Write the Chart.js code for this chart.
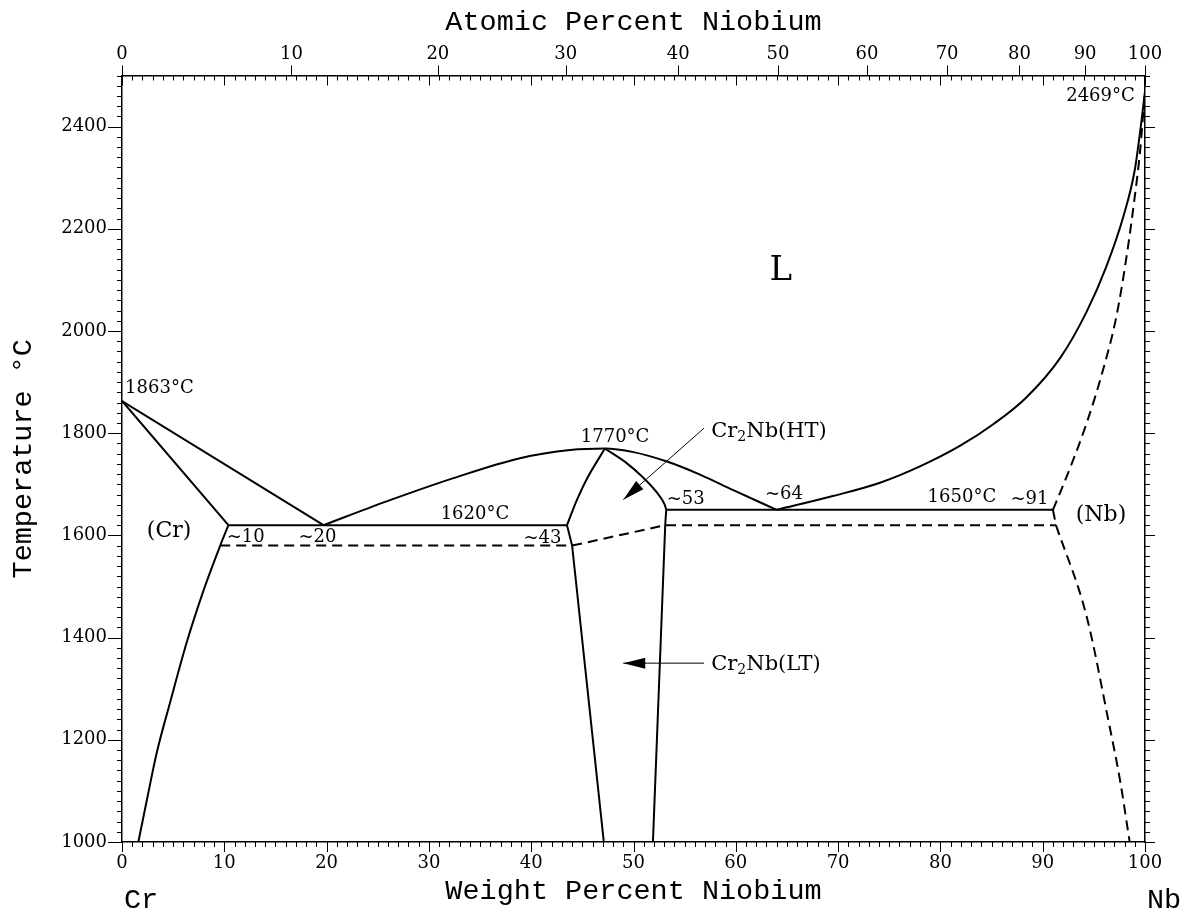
<!DOCTYPE html>
<html>
<head>
<meta charset="utf-8">
<title>Cr-Nb phase diagram</title>
<script src="https://cdn.jsdelivr.net/npm/chart.js@4.4.1/dist/chart.umd.min.js"></script>
<style>
  html, body { margin: 0; padding: 0; background: #fff; }
  canvas { display: block; }
</style>
</head>
<body>
<canvas id="phaseChart" width="1185" height="913"></canvas>
<script>
// tick labels
const wtTicks = [0, 10, 20, 30, 40, 50, 60, 70, 80, 90, 100];
const atTicks = [0, 10, 20, 30, 40, 50, 60, 70, 80, 90, 100];
const tempTicks = [1000, 1200, 1400, 1600, 1800, 2000, 2200, 2400];

// atomic masses, used to place the atomic percent ticks on the weight scale
const M_CR = 51.996;
const M_NB = 92.906;
function atToWt(a) {
    return 100 * a * M_NB / (a * M_NB + (100 - a) * M_CR);
}

// phase boundaries, [wt% Nb, temperature C]
const crLiquidus = [[0, 1863], [19.7, 1620]];
const crSolidus = [[0, 1863], [10.4, 1620]];
const crSolvus = [[10.4, 1620], [9.6, 1580], [8.0, 1494], [6.3, 1389], [4.7, 1273], [3.4, 1175], [2.5, 1089], [1.6, 1000]];
const lavesLiquidus = [[19.7, 1620], [25.8, 1666], [32.4, 1712], [38.9, 1751], [43.8, 1767], [47.2, 1770], [50.0, 1763], [53.2, 1745], [56.5, 1719], [59.7, 1689], [64.0, 1650]];
const lavesLeftHigh = [[47.2, 1770], [45.4, 1709], [44.4, 1666], [43.5, 1620]];
const lavesLeftLow = [[43.5, 1620], [44.0, 1580], [47.1, 1000]];
const lavesRightHigh = [[47.2, 1770], [49.3, 1742], [50.9, 1714], [52.2, 1686], [53.05, 1660], [53.2, 1650]];
const lavesRightLow = [[53.2, 1650], [53.1, 1620], [51.9, 1000]];
const eutectic1620 = [[10.4, 1620], [43.5, 1620]];
const eutectic1650 = [[53.2, 1650], [91.0, 1650]];
const nbLiquidus = [[64.0, 1650], [69.5, 1677], [74.1, 1703], [78.0, 1735], [81.9, 1775], [85.2, 1818], [88.4, 1870], [91.7, 1947], [94.3, 2038], [96.2, 2125], [97.9, 2225], [99.0, 2315], [99.65, 2410], [100, 2469]];
const nbSolidus = [[91.0, 1650], [92.6, 1728], [94.3, 1820], [95.9, 1924], [97.2, 2028], [98.2, 2146], [99.0, 2263], [99.5, 2348], [100, 2469]];
const nbStep = [[91.0, 1650], [91.3, 1620]];
const nbSolvus = [[91.3, 1620], [94.3, 1441], [96.4, 1240], [97.6, 1116], [98.5, 1000]];
const lavesTransition = [[9.6, 1580], [44.0, 1580], [53.1, 1620], [91.3, 1620]];
const arrowHT = [[56.9, 1810], [49.0, 1670]];
const arrowLT = [[56.9, 1350], [49.0, 1350]];

// text placed in the diagram, [text, wt%, temperature, align]
const notes = [
    ['1863°C', 0.3, 1887, 'left'],
    ['~10', 12.1, 1597, 'center'],
    ['~20', 19.1, 1597, 'center'],
    ['1620°C', 34.5, 1642, 'center'],
    ['~43', 41.1, 1595, 'center'],
    ['1770°C', 48.2, 1791, 'center'],
    ['~53', 55.1, 1670, 'center'],
    ['~64', 64.7, 1680, 'center'],
    ['1650°C', 82.1, 1674, 'center'],
    ['~91', 88.7, 1670, 'center'],
    ['2469°C', 99.0, 2460, 'right']
];
const phaseNames = [
    ['(Cr)', 4.6, 1609],
    ['(Nb)', 95.7, 1640]
];
const compoundNames = [
    ['HT', 57.6, 1803],
    ['LT', 57.6, 1347]
];

const SERIF = '"DejaVu Serif", serif';
const MONO = '"Liberation Mono", monospace';

function curve(points, extra) {
    return Object.assign({
        data: points.map(p => ({ x: p[0], y: p[1] })),
        showLine: true,
        pointRadius: 0,
        borderColor: '#000',
        borderWidth: 2,
        tension: 0,
        fill: false
    }, extra || {});
}

const smooth = { cubicInterpolationMode: 'monotone' };
const dashed = { borderDash: [10, 6] };
const smoothDashed = Object.assign({}, smooth, dashed);

const datasets = [
    curve(crLiquidus),
    curve(crSolidus),
    curve(crSolvus, smooth),
    curve(lavesLiquidus, smooth),
    curve(lavesLeftHigh, smooth),
    curve(lavesLeftLow),
    curve(lavesRightHigh, smooth),
    curve(lavesRightLow),
    curve(eutectic1620),
    curve(eutectic1650),
    curve(nbLiquidus, smooth),
    curve(nbSolidus, smoothDashed),
    curve(nbStep, dashed),
    curve(nbSolvus, smoothDashed),
    curve(lavesTransition, dashed),
    curve(arrowHT, { borderWidth: 1 }),
    curve(arrowLT, { borderWidth: 1 })
];

// minor/major tick marks on all four sides
const tickMarks = {
    id: 'tickMarks',
    afterDraw(chart) {
        const { ctx, chartArea: a, scales } = chart;
        const x = scales.x, y = scales.y;
        ctx.save();
        ctx.strokeStyle = '#000';
        ctx.lineWidth = 1;
        ctx.beginPath();
        for (let w = 0; w <= 100; w++) {
            const px = Math.round(x.getPixelForValue(w)) + 0.5;
            const len = w % 10 === 0 ? 10 : 5;
            ctx.moveTo(px, a.bottom); ctx.lineTo(px, a.bottom + len);
            ctx.moveTo(px, a.top); ctx.lineTo(px, a.top + len);
        }
        atTicks.forEach(at => {
            const px = Math.round(x.getPixelForValue(atToWt(at))) + 0.5;
            ctx.moveTo(px, a.top); ctx.lineTo(px, a.top - 10);
        });
        for (let t = 1000; t <= 2500; t += 20) {
            const py = Math.round(y.getPixelForValue(t)) + 0.5;
            const major = t % 200 === 0;
            ctx.moveTo(a.left, py); ctx.lineTo(a.left - (major ? 14 : 5), py);
            ctx.moveTo(a.right, py); ctx.lineTo(a.right + (major ? 10 : 5), py);
        }
        ctx.stroke();
        ctx.restore();
    }
};

function arrowHead(ctx, x, y, from, to) {
    const x0 = x.getPixelForValue(from[0]), y0 = y.getPixelForValue(from[1]);
    const x1 = x.getPixelForValue(to[0]), y1 = y.getPixelForValue(to[1]);
    const ang = Math.atan2(y1 - y0, x1 - x0);
    const len = 22, half = 5.5;
    ctx.save();
    ctx.translate(x1, y1);
    ctx.rotate(ang);
    ctx.beginPath();
    ctx.moveTo(0, 0);
    ctx.lineTo(-len, -half);
    ctx.lineTo(-len, half);
    ctx.closePath();
    ctx.fill();
    ctx.restore();
}

const diagramText = {
    id: 'diagramText',
    afterDatasetsDraw(chart) {
        const { ctx, chartArea: a, scales } = chart;
        const x = scales.x, y = scales.y;
        ctx.save();
        ctx.fillStyle = '#000';
        ctx.textBaseline = 'middle';

        ctx.font = '18px ' + SERIF;
        notes.forEach(n => {
            ctx.textAlign = n[3];
            ctx.fillText(n[0], x.getPixelForValue(n[1]), y.getPixelForValue(n[2]));
        });

        ctx.font = '22px ' + SERIF;
        ctx.textAlign = 'center';
        phaseNames.forEach(n => {
            ctx.fillText(n[0], x.getPixelForValue(n[1]), y.getPixelForValue(n[2]));
        });

        ctx.font = '34px ' + SERIF;
        ctx.fillText('L', x.getPixelForValue(64.4), y.getPixelForValue(2118));

        // Cr2Nb with a subscript 2
        ctx.textAlign = 'left';
        compoundNames.forEach(n => {
            let px = x.getPixelForValue(n[1]);
            const py = y.getPixelForValue(n[2]);
            ctx.font = '21px ' + SERIF;
            ctx.fillText('Cr', px, py);
            px += ctx.measureText('Cr').width;
            ctx.font = '14px ' + SERIF;
            ctx.fillText('2', px, py + 6);
            px += ctx.measureText('2').width;
            ctx.font = '21px ' + SERIF;
            ctx.fillText('Nb(' + n[0] + ')', px, py);
        });

        arrowHead(ctx, x, y, arrowHT[0], arrowHT[1]);
        arrowHead(ctx, x, y, arrowLT[0], arrowLT[1]);

        // element names under the axis ends
        ctx.font = '28.5px ' + MONO;
        ctx.textAlign = 'left';
        ctx.fillText('Cr', x.getPixelForValue(0) + 2, a.bottom + 58);
        ctx.fillText('Nb', x.getPixelForValue(100) + 2, a.bottom + 58);
        ctx.restore();
    }
};

const tickFont = { family: SERIF, size: 18 };
const titleFont = { family: MONO, size: 28.5 };

new Chart(document.getElementById('phaseChart'), {
    type: 'scatter',
    data: { datasets: datasets },
    options: {
        responsive: false,
        animation: false,
        events: [],
        layout: { padding: 0 },
        plugins: {
            legend: { display: false },
            tooltip: { enabled: false }
        },
        scales: {
            x: {
                type: 'linear',
                position: 'bottom',
                min: 0,
                max: 100,
                afterBuildTicks: s => { s.ticks = wtTicks.map(v => ({ value: v })); },
                afterFit: s => { s.height = 71; },
                ticks: {
                    font: tickFont, color: '#000', padding: 11, maxRotation: 0, autoSkip: false,
                    callback: v => String(v)
                },
                grid: { display: false, drawTicks: false },
                border: { display: true, color: '#000', width: 1.5 },
                title: { display: true, text: 'Weight Percent Niobium', font: titleFont, color: '#000', padding: { top: 0, bottom: 4 } }
            },
            xTop: {
                type: 'linear',
                position: 'top',
                min: 0,
                max: 100,
                afterBuildTicks: s => { s.ticks = atTicks.map(a => ({ value: atToWt(a) })); },
                afterFit: s => { s.height = 75.5; },
                ticks: {
                    font: tickFont, color: '#000', padding: 10, maxRotation: 0, autoSkip: false,
                    callback: (v, i) => String(atTicks[i])
                },
                grid: { display: false, drawTicks: false },
                border: { display: true, color: '#000', width: 1.5 },
                title: { display: true, text: 'Atomic Percent Niobium', font: titleFont, color: '#000', padding: { top: 5, bottom: 0 } }
            },
            y: {
                type: 'linear',
                position: 'left',
                min: 1000,
                max: 2500,
                afterBuildTicks: s => { s.ticks = tempTicks.map(v => ({ value: v })); },
                afterFit: s => { s.width = 122; },
                ticks: {
                    font: tickFont, color: '#000', padding: 15, autoSkip: false,
                    callback: v => String(v)
                },
                grid: { display: false, drawTicks: false },
                border: { display: true, color: '#000', width: 1.5 },
                title: { display: true, text: 'Temperature °C', font: titleFont, color: '#000', padding: { top: 6, bottom: 0 } }
            },
            yRight: {
                type: 'linear',
                position: 'right',
                min: 1000,
                max: 2500,
                afterFit: s => { s.width = 40; },
                ticks: { display: false },
                grid: { display: false, drawTicks: false },
                border: { display: true, color: '#000', width: 1.5 }
            }
        }
    },
    plugins: [tickMarks, diagramText]
});
</script>
</body>
</html>
